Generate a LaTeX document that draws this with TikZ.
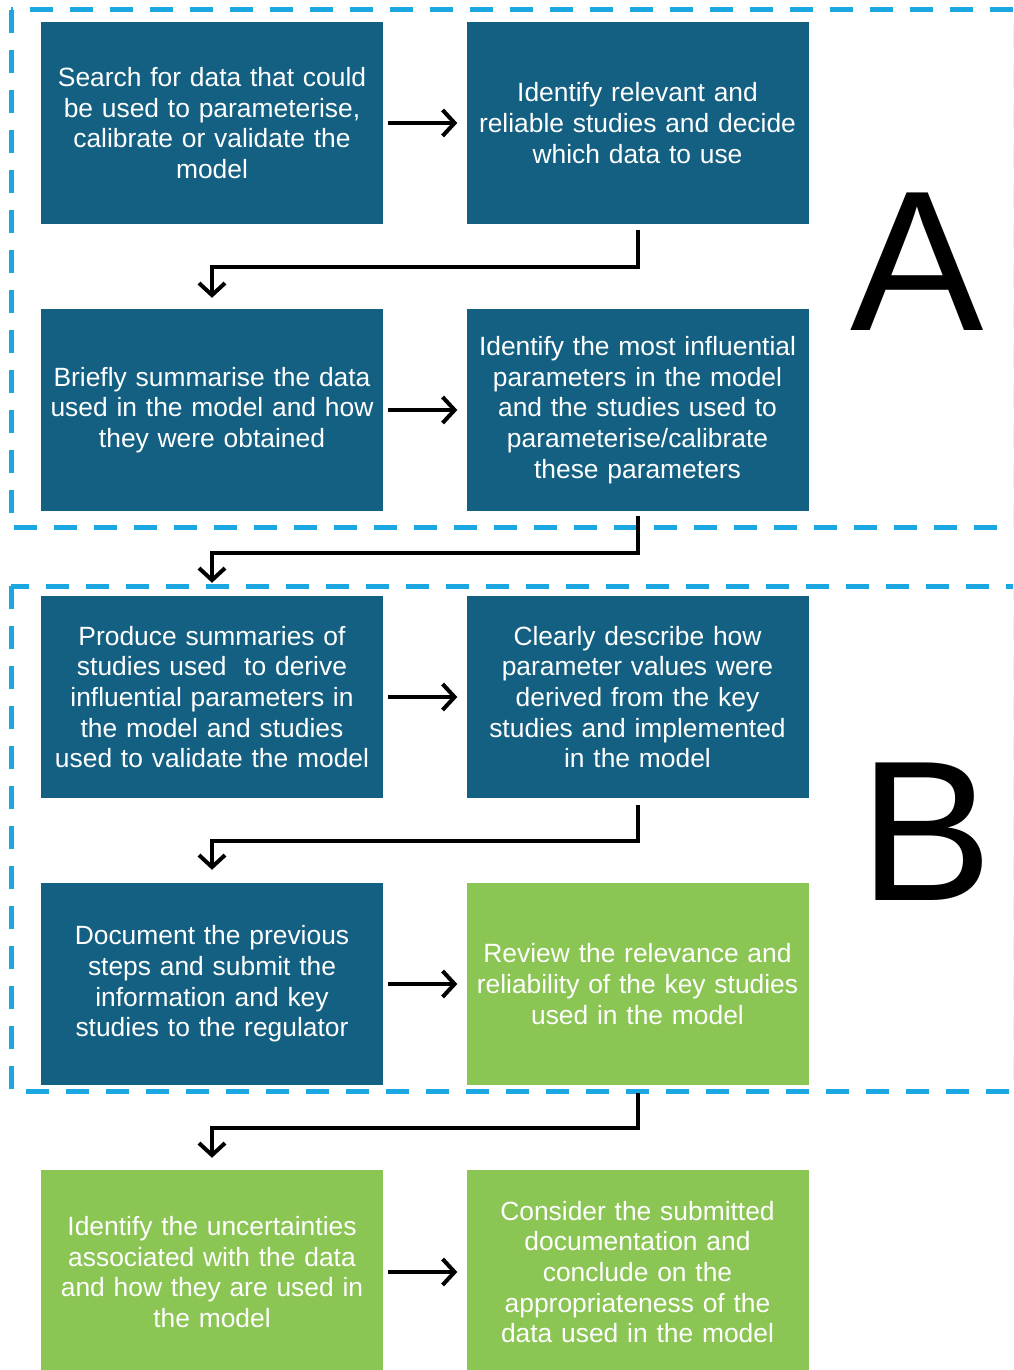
\documentclass[tikz,border=0pt]{standalone}
\usepackage{fontspec}
\setmainfont{Liberation Sans}
\usetikzlibrary{arrows.meta}
\definecolor{boxblue}{RGB}{20,96,130}
\definecolor{boxgreen}{RGB}{139,197,84}
\definecolor{frameblue}{RGB}{27,167,225}
\tikzset{
  stepbox/.style={fill=#1, draw=none, minimum width=342pt, minimum height=202pt,
    inner sep=0pt, text=white, text width=340pt, align=center,
    font=\fontsize{26.4}{30.6}\selectfont},
  flow/.style={line width=4pt, -{Straight Barb[length=12pt,width=26pt,line width=4pt]}},
  phase/.style={frameblue, line width=5pt, dash pattern=on 23pt off 17pt},
  tag/.style={inner sep=0pt, font=\fontsize{200}{200}\selectfont}
}
\begin{document}
\begin{tikzpicture}[x=1pt,y=-1pt]
\useasboundingbox (0,0) rectangle (1013,1370);
\begin{scope}
\clip (0,0) rectangle (1013,1370);

% phase frames
\draw[phase] (11,10) rectangle (1015,527);
\draw[phase] (11,586) rectangle (1015,1091);

% phase labels
\node[tag] (lblA) at (917,262) {A};
\node[tag] (lblB) at (926,832) {B};

% row 1
\node[stepbox=boxblue] (s1) at (212,123) {Search for data that could\\be used to parameterise,\\calibrate or validate the\\model};
\node[stepbox=boxblue] (s2) at (637.5,123) {Identify relevant and\\reliable studies and decide\\which data to use};
% row 2
\node[stepbox=boxblue] (s3) at (212,410) {Briefly summarise the data\\used in the model and how\\they were obtained};
\node[stepbox=boxblue] (s4) at (637.5,410) {Identify the most influential\\parameters in the model\\and the studies used to\\parameterise/calibrate\\these parameters};
% row 3
\node[stepbox=boxblue] (s5) at (212,697) {Produce summaries of\\studies used \ to derive\\influential parameters in\\the model and studies\\used to validate the model};
\node[stepbox=boxblue] (s6) at (637.5,697) {Clearly describe how\\parameter values were\\derived from the key\\studies and implemented\\in the model};
% row 4
\node[stepbox=boxblue] (s7) at (212,984) {Document the previous\\steps and submit the\\information and key\\studies to the regulator};
\node[stepbox=boxgreen] (s8) at (637.5,984) {Review the relevance and\\reliability of the key studies\\used in the model};
% row 5
\node[stepbox=boxgreen, minimum height=204pt] (s9) at (212,1272) {Identify the uncertainties\\associated with the data\\and how they are used in\\the model};
\node[stepbox=boxgreen, minimum height=204pt] (s10) at (637.5,1272) {Consider the submitted\\documentation and\\conclude on the\\appropriateness of the\\data used in the model};

% horizontal connectors
\foreach \a/\b in {s1/s2,s3/s4,s5/s6,s7/s8,s9/s10}
  \draw[flow] ([xshift=5pt]\a.east) -- ([xshift=-9pt]\b.west);

% elbow connectors
\draw[flow] ([yshift=-6pt]s2.south) -- ++(0,37) -| ([yshift=11pt]s3.north);
\draw[flow] ([yshift=-5pt]s4.south) -- ++(0,37) -| ([yshift=13pt]s5.north);
\draw[flow] ([yshift=-7pt]s6.south) -- ++(0,36) -| ([yshift=13pt]s7.north);
\draw[flow] ([yshift=-8pt]s8.south) -- ++(0,35) -| ([yshift=12pt]s9.north);
\end{scope}
\end{tikzpicture}
\end{document}
